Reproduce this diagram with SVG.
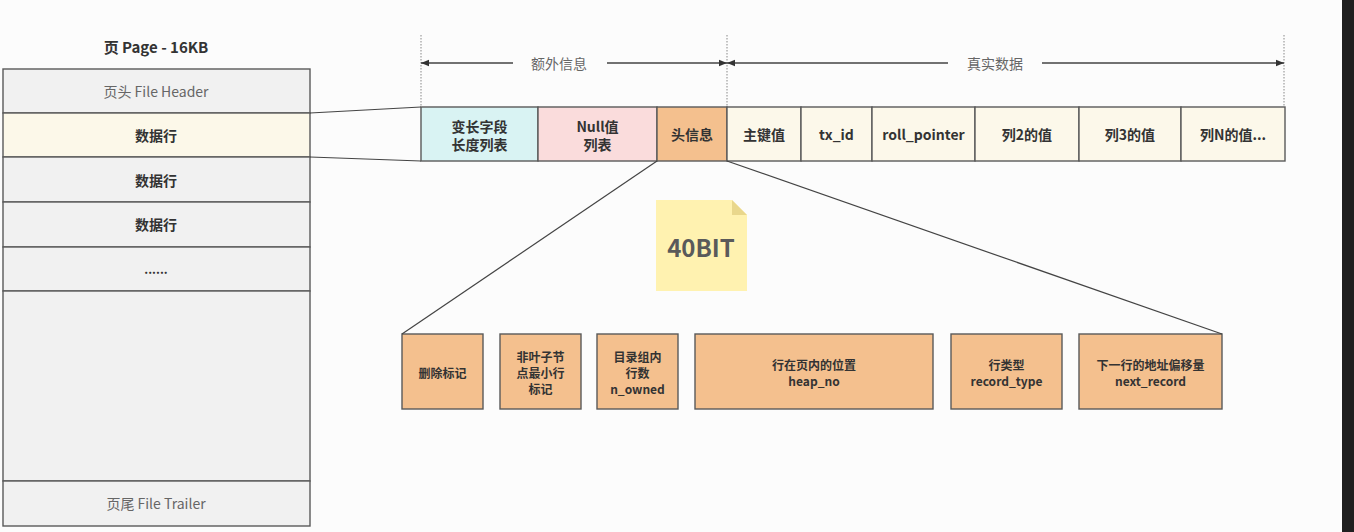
<svg xmlns="http://www.w3.org/2000/svg" width="1354" height="532" viewBox="0 0 1354 532">
<defs>
<style>
.t{font-family:"Noto Sans CJK SC","Liberation Sans",sans-serif;fill:#333;text-anchor:middle;dominant-baseline:central}
.b{font-weight:bold}
.s15{font-size:15px}
.s14{font-size:14px}
.s12{font-size:12px}
.g{fill:#666;font-weight:normal}
.box{stroke:#5a5a5a;stroke-width:1.4}
.pg{fill:#f1f1f1}
.hl{fill:#fcf8e9}
.cell{fill:#fcf8ea}
.or{fill:#f4c08e}
.ln{stroke:#444;stroke-width:1.2;fill:none}
.dot{stroke:#888;stroke-width:1;stroke-dasharray:1.5 1.5;fill:none}
.dim{stroke:#444;stroke-width:1.3;fill:none}
</style>
<marker id="ah" viewBox="0 0 10 10" refX="10" refY="5" markerWidth="8" markerHeight="8" orient="auto-start-reverse" markerUnits="userSpaceOnUse">
<path d="M0,1 L10,5 L0,9 Z" fill="#333"/>
</marker>
</defs>
<rect x="0" y="0" width="1354" height="532" fill="#fcfcfc"/>
<rect x="1342" y="0" width="12" height="532" fill="#1f1f1f"/>

<g id="page">
<text class="t b s15" x="156" y="46">页 Page - 16KB</text>
<g id="file-header"><rect class="box pg" x="3" y="69" width="307" height="44"/><text class="t s14 g" x="156" y="91">页头 File Header</text></g>
<g id="row-highlight"><rect class="box hl" x="3" y="113" width="307" height="44"/><text class="t b s14" x="156" y="135">数据行</text></g>
<g id="row-2"><rect class="box pg" x="3" y="157" width="307" height="45"/><text class="t b s14" x="156" y="180">数据行</text></g>
<g id="row-3"><rect class="box pg" x="3" y="202" width="307" height="45"/><text class="t b s14" x="156" y="224">数据行</text></g>
<g id="row-more"><rect class="box pg" x="3" y="247" width="307" height="44"/><text class="t b s12" x="156" y="268">......</text></g>
<g id="free"><rect class="box pg" x="3" y="291" width="307" height="190"/></g>
<g id="file-trailer"><rect class="box pg" x="3" y="481" width="307" height="45"/><text class="t s14 g" x="156" y="503">页尾 File Trailer</text></g>
</g>

<g id="row-fields">
<g id="var-len"><rect class="box" fill="#d9f3f3" x="421" y="107" width="117" height="54"/><text class="t b s14" x="479.5" y="126">变长字段</text><text class="t b s14" x="479.5" y="144">长度列表</text></g>
<g id="null-list"><rect class="box" fill="#fadcdc" x="538" y="107" width="119" height="54"/><text class="t b s14" x="597.5" y="126">Null值</text><text class="t b s14" x="597.5" y="144">列表</text></g>
<g id="header-info"><rect class="box or" x="657" y="107" width="70" height="54"/><text class="t b s14" x="692" y="134">头信息</text></g>
<g id="pk"><rect class="box cell" x="727" y="107" width="74" height="54"/><text class="t b s14" x="764" y="134">主键值</text></g>
<g id="tx-id"><rect class="box cell" x="801" y="107" width="71" height="54"/><text class="t b s14" x="836.5" y="134">tx_id</text></g>
<g id="roll-pointer"><rect class="box cell" x="872" y="107" width="103" height="54"/><text class="t b s14" x="923.5" y="134">roll_pointer</text></g>
<g id="col2"><rect class="box cell" x="975" y="107" width="104" height="54"/><text class="t b s14" x="1027" y="134">列2的值</text></g>
<g id="col3"><rect class="box cell" x="1079" y="107" width="102" height="54"/><text class="t b s14" x="1130" y="134">列3的值</text></g>
<g id="colN"><rect class="box cell" x="1181" y="107" width="104" height="54"/><text class="t b s14" x="1233" y="134">列N的值...</text></g>
</g>

<g id="note-40bit">
<path d="M656,200 L732,200 L747,215 L747,291 L656,291 Z" fill="#fff2b0"/>
<path d="M732,200 L747,215 L732,215 Z" fill="#e9d78c"/>
<text class="t b" x="701" y="246" style="font-size:24px;fill:#5a5a5a">40BIT</text>
</g>

<g id="header-bits">
<g id="delete-flag"><rect class="box or" x="402" y="334" width="81" height="75"/><text class="t b s12" x="442.5" y="372">删除标记</text></g>
<g id="min-rec"><rect class="box or" x="500" y="334" width="81" height="75"/><text class="t b s12" x="540.5" y="356">非叶子节</text><text class="t b s12" x="540.5" y="372">点最小行</text><text class="t b s12" x="540.5" y="388">标记</text></g>
<g id="n-owned"><rect class="box or" x="597" y="334" width="81" height="75"/><text class="t b s12" x="637.5" y="356">目录组内</text><text class="t b s12" x="637.5" y="372">行数</text><text class="t b s12" x="637.5" y="388">n_owned</text></g>
<g id="heap-no"><rect class="box or" x="695" y="334" width="238" height="75"/><text class="t b s12" x="814" y="364">行在页内的位置</text><text class="t b s12" x="814" y="380">heap_no</text></g>
<g id="record-type"><rect class="box or" x="951" y="334" width="111" height="75"/><text class="t b s12" x="1006.5" y="364">行类型</text><text class="t b s12" x="1006.5" y="380">record_type</text></g>
<g id="next-record"><rect class="box or" x="1079" y="334" width="143" height="75"/><text class="t b s12" x="1150.5" y="364">下一行的地址偏移量</text><text class="t b s12" x="1150.5" y="380">next_record</text></g>
</g>

<g id="connectors">
<line class="ln" x1="310" y1="113" x2="421" y2="107"/>
<line class="ln" x1="310" y1="157" x2="421" y2="161"/>
<line class="ln" x1="657" y1="161" x2="402" y2="334"/>
<line class="ln" x1="727" y1="161" x2="1222" y2="334"/>
<line class="dot" x1="421" y1="35" x2="421" y2="107"/>
<line class="dot" x1="727" y1="35" x2="727" y2="107"/>
<line class="dot" x1="1284" y1="35" x2="1284" y2="107"/>
<line class="dim" x1="513" y1="63" x2="421" y2="63" marker-end="url(#ah)"/>
<line class="dim" x1="607" y1="63" x2="727" y2="63" marker-end="url(#ah)"/>
<line class="dim" x1="948" y1="63" x2="727" y2="63" marker-end="url(#ah)"/>
<line class="dim" x1="1042" y1="63" x2="1284" y2="63" marker-end="url(#ah)"/>
<text class="t s14 g" x="559" y="63">额外信息</text>
<text class="t s14 g" x="995" y="63">真实数据</text>
</g>
</svg>
